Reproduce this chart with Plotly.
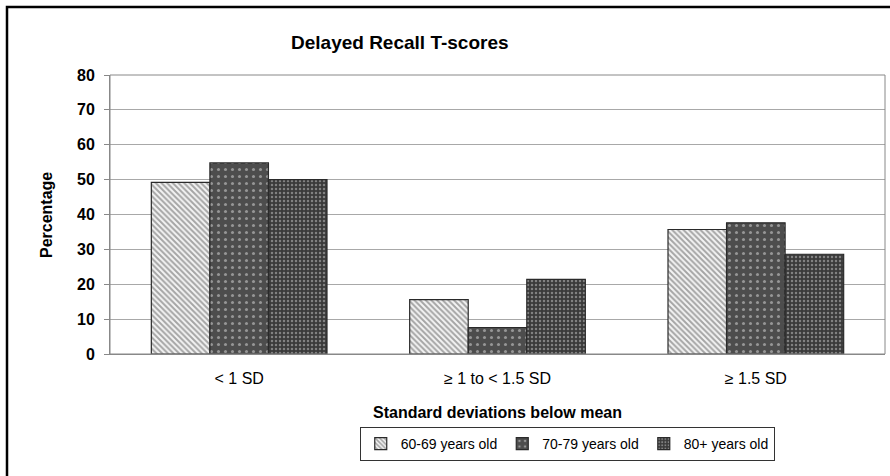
import plotly.graph_objects as go

categories = ["< 1 SD", "≥ 1 to < 1.5 SD", "≥ 1.5 SD"]
series_names = ["60-69 years old", "70-79 years old", "80+ years old"]
values_60 = [49.2, 15.6, 35.7]
values_70 = [54.8, 7.6, 37.6]
values_80 = [50.0, 21.4, 28.6]
y_ticks = [0, 10, 20, 30, 40, 50, 60, 70, 80]

patterns = [
    dict(shape="\\", fgcolor="#555555", bgcolor="#f4f4f4", size=4, solidity=0.5),
    dict(shape=".", fgcolor="#e0e0e0", bgcolor="#4d4d4d", size=7, solidity=0.15),
    dict(shape=".", fgcolor="#c8c8c8", bgcolor="#3a3a3a", size=4, solidity=0.3),
]

fig = go.Figure()
for name, vals, pat in zip(series_names, [values_60, values_70, values_80], patterns):
    fig.add_trace(go.Bar(
        x=categories, y=vals, name=name,
        marker=dict(color=pat["bgcolor"], pattern=pat, line=dict(color="#2a2a2a", width=1.2)),
    ))

FONT = "Liberation Sans, Arial, sans-serif"
fig.update_layout(
    width=890, height=476,
    margin=dict(l=110, r=5, t=75, b=122),
    paper_bgcolor="white", plot_bgcolor="white",
    barmode="group", bargap=0.32, bargroupgap=0,
    font=dict(family=FONT, color="black"),
    showlegend=True,
    legend=dict(
        orientation="h", x=0.59, xanchor="center", y=-0.262, yanchor="top",
        bordercolor="#333", borderwidth=1, font=dict(size=14, family=FONT),
        traceorder="normal", itemwidth=30,
    ),
    xaxis=dict(
        showgrid=False, showline=True, linecolor="#888", linewidth=1,
        tickfont=dict(size=16, family=FONT), ticks="", ticklabelstandoff=10,
        mirror=False,
    ),
    yaxis=dict(
        range=[0, 80], tickvals=y_ticks, showgrid=True, gridcolor="#a8a8a8", gridwidth=1,
        showline=True, linecolor="#888", linewidth=1, ticks="outside", ticklen=5,
        tickcolor="#888", tickfont=dict(size=16, family=FONT, weight="bold"),
        ticklabelstandoff=6, zeroline=False,
    ),
    annotations=[
        dict(text="<b>Delayed Recall T-scores</b>", xref="paper", yref="paper",
             x=(400 - 110) / 775, y=(354 - 42) / 279, xanchor="center", yanchor="middle",
             showarrow=False, font=dict(size=19, family=FONT)),
        dict(text="<b>Standard deviations below mean</b>", xref="paper", yref="paper",
             x=(497 - 110) / 775, y=(354 - 412) / 279, xanchor="center", yanchor="middle",
             showarrow=False, font=dict(size=16, family=FONT)),
        dict(text="<b>Percentage</b>", xref="paper", yref="paper", textangle=-90,
             x=(46 - 110) / 775, y=(354 - 215) / 279, xanchor="center", yanchor="middle",
             showarrow=False, font=dict(size=16, family=FONT)),
    ],
    shapes=[
        dict(type="rect", xref="paper", yref="paper", x0=0, y0=0, x1=1, y1=1,
             line=dict(color="#888", width=1)),
        dict(type="rect", xref="paper", yref="paper",
             x0=(7 - 110) / 775, y0=(354 - 490) / 279, x1=(900 - 110) / 775, y1=(354 - 7) / 279,
             line=dict(color="black", width=2.5)),
    ],
)

fig.write_html("out.html")
